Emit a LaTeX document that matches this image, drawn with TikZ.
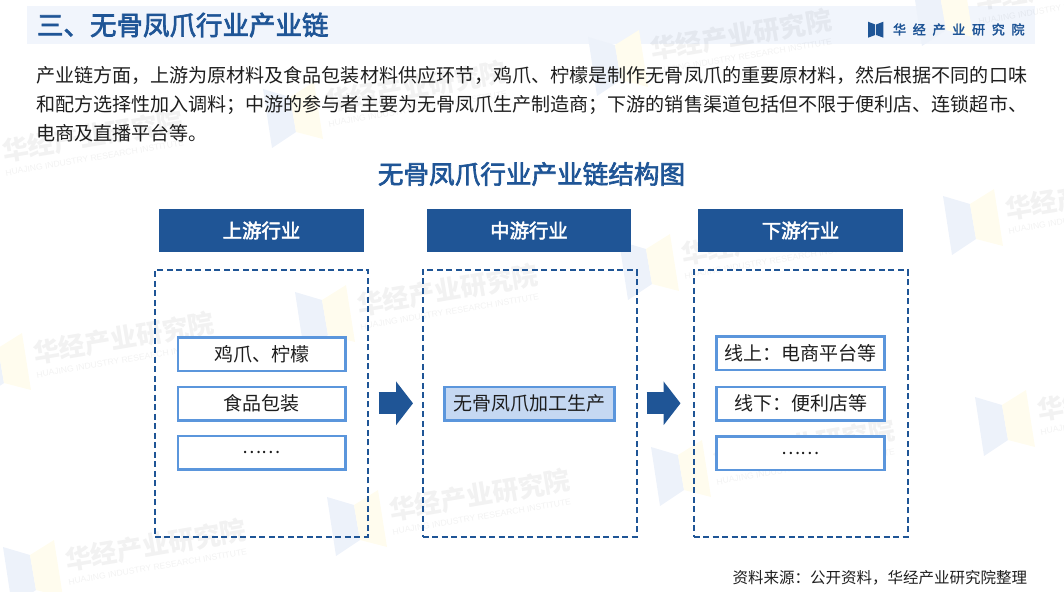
\documentclass[tikz,border=0pt]{standalone}
\usepackage{fontspec}
\setmainfont{Noto Sans CJK SC}
\newfontfamily\cjkmid[FakeBold=2.5]{Noto Sans CJK SC}
\newfontfamily\wmlatin{Liberation Sans}
\usetikzlibrary{positioning,arrows.meta,calc}
\definecolor{hjBlue}{RGB}{31,85,150}
\definecolor{hjBand}{RGB}{241,245,252}
\definecolor{hjEdge}{RGB}{91,150,220}
\definecolor{hjFill}{RGB}{197,216,242}
\definecolor{hjInk}{RGB}{30,30,30}
\definecolor{hjPaleBlue}{RGB}{237,242,250}
\definecolor{hjPaleGold}{RGB}{255,252,238}
\tikzset{
    base/.style={inner sep=0pt, outer sep=0pt, align=center},
    heading/.style={base, text=hjBlue, font=\fontsize{26.5}{30}\cjkmid},
    head/.style={base, fill=hjBlue, text=white, minimum height=43pt,
                 font=\fontsize{19.4}{24}\cjkmid},
    zone/.style={base, draw=hjBlue, line width=2pt, dash pattern=on 6pt off 3.5pt,
                 minimum height=266.7pt, minimum width=212.7pt},
    item/.style={base, draw=hjEdge, line width=2.6pt, fill=white, text=hjInk,
                 minimum width=167.8pt, minimum height=33.4pt,
                 font=\fontsize{19}{24}\selectfont},
    flow/.style={line width=22pt, draw=hjBlue, -{Triangle[length=17pt,width=43pt]}},
    wmword/.style={base, anchor=base west, rotate=9.6, text=black, text opacity=0.05}
}

\begin{document}
\begin{tikzpicture}[x=1pt,y=-1pt]
  \useasboundingbox (0,0) rectangle (1064,591);

  % Title band
  \fill[hjBand] (27,6) rectangle (1035,44);

  % Watermarks
  \foreach \wx/\wy [count=\wi] in {263/89,588/37,913/-13,-60/138,943/196,619/241,-29/340,295/292,327/497,3/547,651/447,975/397}{
    \begin{scope}[shift={(\wx,\wy)}]
      \fill[hjPaleBlue] (0,0) -- (27,8) -- (33,43) -- (9,59) -- cycle;
      \fill[hjPaleGold] (27,8) -- (51,-7) -- (60,50) -- (33,43) -- cycle;
      \node[wmword, font=\fontsize{26.2}{30}\selectfont\bfseries] (wmcn\wi) at (64,23) {华经产业研究院};
      \node[wmword, font=\fontsize{8.6}{10}\wmlatin] (wmen\wi) at (66,38) {HUAJING INDUSTRY RESEARCH INSTITUTE};
    \end{scope}
  }

  % Header
  \node[heading, anchor=west] (title) at (37,25) {三、无骨凤爪行业产业链};
  \fill[hjBlue] (868,21.7) -- (875.2,24.5) -- (875.2,35) -- (868,37.7) -- cycle;
  \fill[hjBlue] (883.4,21.7) -- (876.2,24.5) -- (876.2,35) -- (883.4,37.7) -- cycle;
  \node[base, anchor=west, text=hjBlue, font=\fontsize{13}{16}\cjkmid\addfontfeature{LetterSpace=52}] (brand) at (893,29.5) {华经产业研究院};

  % Intro text
  \node[base, anchor=west, align=left, text=hjInk, font=\fontsize{19.06}{29}\selectfont] (intro) at (36,104) {产业链方面，上游为原材料及食品包装材料供应环节，鸡爪、柠檬是制作无骨凤爪的重要原材料，然后根据不同的口味\\和配方选择性加入调料；中游的参与者主要为无骨凤爪生产制造商；下游的销售渠道包括但不限于便利店、连锁超市、\\电商及直播平台等。};

  \node[heading, font=\fontsize{25.6}{30}\cjkmid] (chart) at (531.5,174) {无骨凤爪行业产业链结构图};

  % Upstream
  \node[head, minimum width=205pt] (uphead) at (261.5,230.5) {上游行业};
  \node[zone] (upzone) at (261.3,403.3) {};
  \node[item] (up1) at (261.7,354.3) {鸡爪、柠檬};
  \node[item] (up2) at (261.7,403.5) {食品包装};
  \node[item] (up3) at (261.7,452.5) {\fontsize{18}{24}\selectfont ……};

  % Midstream
  \node[head, minimum width=204pt] (midhead) at (529,230.5) {中游行业};
  \node[zone, minimum width=214pt] (midzone) at (529.5,403.3) {};
  \node[item, fill=hjFill, minimum width=169.6pt] (mid1) at (529.5,403.5) {无骨凤爪加工生产};

  % Downstream
  \node[head, minimum width=205pt] (lowhead) at (800.5,230.5) {下游行业};
  \node[zone, minimum width=214pt] (lowzone) at (800.5,403.3) {};
  \node[item, minimum width=168pt] (low1) at (800.5,353.3) {线上：电商平台等};
  \node[item, minimum width=168pt] (low2) at (800.5,403.5) {线下：便利店等};
  \node[item, minimum width=168pt] (low3) at (800.5,453.3) {\fontsize{18}{24}\selectfont ……};

  % Block arrows
  \draw[flow, shorten <=11pt, shorten >=9.5pt] (upzone) -- (midzone);
  \draw[flow, shorten <=10pt, shorten >=13pt] (midzone) -- (lowzone);

  % Source line
  \node[base, anchor=east, text=hjInk, font=\fontsize{15.5}{18}\selectfont] (source) at (1027,578) {资料来源：公开资料，华经产业研究院整理};
\end{tikzpicture}
\end{document}
